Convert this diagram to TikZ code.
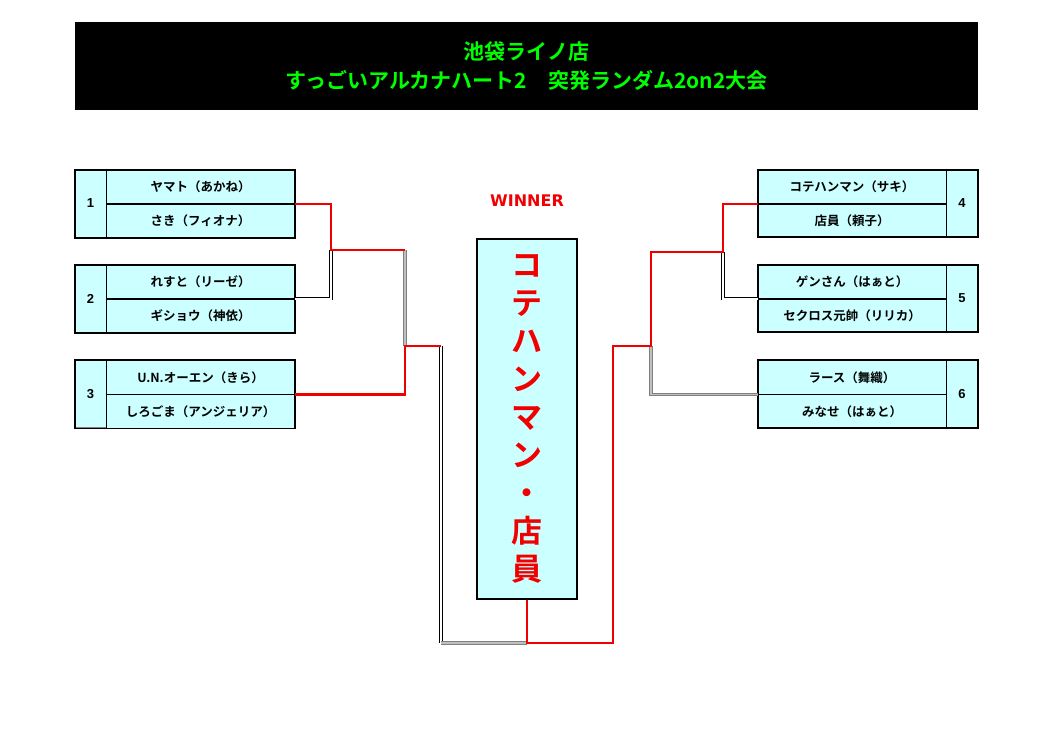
\documentclass[tikz,border=0pt]{standalone}
\usepackage{fontspec}
\setmainfont{Noto Sans CJK JP}[BoldFont={Noto Sans CJK JP Bold}]
\newfontfamily\latinfont{Liberation Sans}
\newfontfamily\widefont{DejaVu Sans}
\usetikzlibrary{positioning,calc}
\definecolor{cyanlt}{RGB}{204,255,255}
\definecolor{titlegreen}{RGB}{0,255,0}
\definecolor{winred}{RGB}{240,0,0}

\begin{document}
\begin{tikzpicture}[x=1pt, y=-1pt,
        numbox/.style={rectangle, draw=gray, fill=cyanlt, minimum width=31pt, minimum height=67pt, inner sep=0pt, font=\latinfont\bfseries\fontsize{13}{15}\selectfont},
        namebox/.style={rectangle, draw=black, line width=.6pt, fill=cyanlt, minimum width=188pt, minimum height=33.5pt, inner sep=0pt, font=\bfseries\fontsize{12.5}{14}\selectfont},
        frame/.style={draw=black, line width=1.8pt},
        win/.style={draw=winred, line width=2.6pt},
        lose/.style={draw=black, double=white, line width=.9pt, double distance=1.3pt},
        losegray/.style={draw=gray, double=gray!50, line width=1pt, double distance=1.2pt},
        champbox/.style={rectangle, draw=black, line width=1.6pt, fill=cyanlt, minimum width=100pt, minimum height=360pt, inner sep=0pt, text=winred, align=center, font=\bfseries\fontsize{31}{38}\selectfont}]

        \useasboundingbox (0,0) rectangle (1053,744);

        % title
        \node[rectangle, fill=black, minimum width=903pt, minimum height=88pt, text=titlegreen, align=center, font=\bfseries\fontsize{21}{28.5}\selectfont] (title) at (526.5,66) {池袋ライノ店\\すっごいアルカナハート2\quad 突発ランダム2on2大会};

        % left side
        \node[numbox] (n1) at (90.5,203.5) {1};
        \node[namebox, anchor=north west] (p1a) at (n1.north east) {ヤマト（あかね）};
        \node[namebox, below=0pt of p1a] (p1b) {さき（フィオナ）};
        \draw[frame] (n1.north west) rectangle (p1b.south east);

        \node[numbox] (n2) at (90.5,298.5) {2};
        \node[namebox, anchor=north west] (p2a) at (n2.north east) {れすと（リーゼ）};
        \node[namebox, below=0pt of p2a] (p2b) {ギショウ（神依）};
        \draw[frame] (n2.north west) rectangle (p2b.south east);

        \node[numbox] (n3) at (90.5,394) {3};
        \node[namebox, anchor=north west] (p3a) at (n3.north east) {U.N.オーエン（きら）};
        \node[namebox, below=0pt of p3a] (p3b) {しろごま（アンジェリア）};
        \draw[frame] (n3.north west) rectangle (p3b.south east);

        % right side
        \node[numbox] (n4) at (962,203.5) {4};
        \node[namebox, anchor=north east] (p4a) at (n4.north west) {コテハンマン（サキ）};
        \node[namebox, below=0pt of p4a] (p4b) {店員（頼子）};
        \draw[frame] (p4a.north west) rectangle (n4.south east);

        \node[numbox] (n5) at (962,298.5) {5};
        \node[namebox, anchor=north east] (p5a) at (n5.north west) {ゲンさん（はぁと）};
        \node[namebox, below=0pt of p5a] (p5b) {セクロス元帥（リリカ）};
        \draw[frame] (p5a.north west) rectangle (n5.south east);

        \node[numbox] (n6) at (962,394) {6};
        \node[namebox, anchor=north east] (p6a) at (n6.north west) {ラース（舞織）};
        \node[namebox, below=0pt of p6a] (p6b) {みなせ（はぁと）};
        \draw[frame] (p6a.north west) rectangle (n6.south east);

        % winner
        \node[text=winred, font=\widefont\bfseries\fontsize{16}{18}\selectfont] (wlabel) at (527,201) {WINNER};
        \node[champbox] (champ) at (527,419) {コ\\テ\\ハ\\ン\\マ\\ン\\・\\店\\員};

        % bracket joints
        \coordinate (jl1) at (331,250);
        \coordinate (jl2) at (405,346);
        \coordinate (jl3) at (441,643);
        \coordinate (jr1) at (723,252);
        \coordinate (jr2) at (651,346);
        \coordinate (jr3) at (613,643);

        \draw[lose] (p2a.south east) -| (jl1);
        \draw[losegray] (jl1 -| jl2) -- (jl2);
        \draw[lose] (jl2 -| jl3) -- (jl3);
        \draw[losegray] (jl3) -- (jl3 -| champ.south);
        \draw[lose] (p5a.south west) -| (jr1);
        \draw[losegray] (p6a.south west) -| (jr2);

        \draw[win] (p1a.south east) -| (jl1) -- (jl1 -| jl2);
        \draw[win] (p3a.south east) -| (jl2) -- (jl2 -| jl3);
        \draw[win] (champ.south) |- (jr3) |- (jr2) |- (jr1) |- (p4a.south west);
    \end{tikzpicture}
\end{document}
